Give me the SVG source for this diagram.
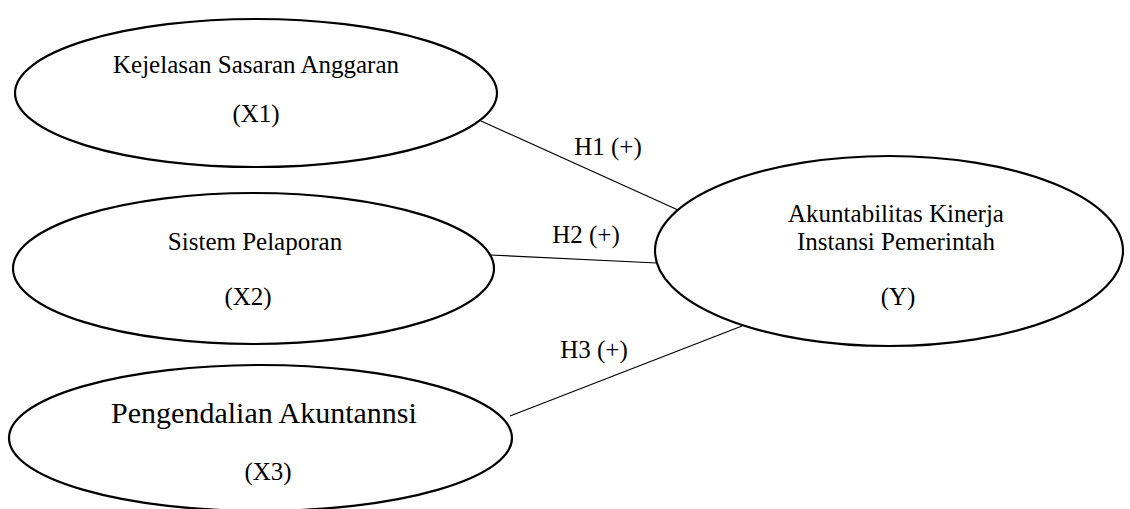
<svg xmlns="http://www.w3.org/2000/svg" width="1130" height="509" viewBox="0 0 1130 509">
<style>
.node{fill:#fff;stroke:#000;stroke-width:2.2}
.edge{stroke:#000;stroke-width:1.2;fill:none}
text{font-family:"Liberation Serif","Times New Roman",serif;font-size:25px;fill:#000;text-anchor:middle}
.big{font-size:30px}
</style>
<rect width="1130" height="509" fill="#fff"/>
<g id="connectors">
<line class="edge" x1="481" y1="121" x2="678" y2="210"/>
<line class="edge" x1="490" y1="255" x2="657" y2="263"/>
<line class="edge" x1="510" y1="416" x2="742" y2="326"/>
<text x="608" y="155">H1 (+)</text>
<text x="586" y="243">H2 (+)</text>
<text x="594" y="358">H3 (+)</text>
</g>
<g id="x1">
<ellipse class="node" cx="256" cy="93" rx="241" ry="74"/>
<text x="256" y="73">Kejelasan Sasaran Anggaran</text>
<text x="256" y="122">(X1)</text>
</g>
<g id="x2">
<ellipse class="node" cx="253.5" cy="268.5" rx="240.5" ry="75.5"/>
<text x="255" y="250">Sistem Pelaporan</text>
<text x="248" y="305">(X2)</text>
</g>
<g id="x3">
<ellipse class="node" cx="260.5" cy="438" rx="251.5" ry="73"/>
<text class="big" x="264" y="423">Pengendalian Akuntannsi</text>
<text x="268" y="480">(X3)</text>
</g>
<g id="y">
<ellipse class="node" cx="889" cy="251" rx="234" ry="95"/>
<text x="896" y="222">Akuntabilitas Kinerja</text>
<text x="896" y="250">Instansi Pemerintah</text>
<text x="898" y="305">(Y)</text>
</g>
</svg>
